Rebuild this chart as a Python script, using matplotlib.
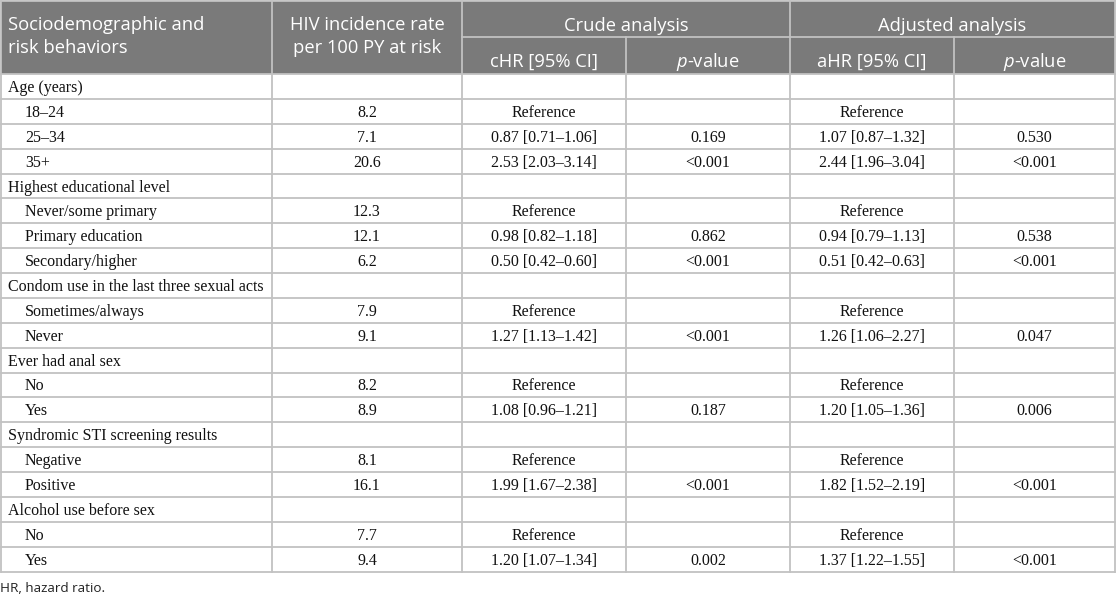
import matplotlib.pyplot as plt

plt.rcParams['mathtext.fontset'] = 'custom'
plt.rcParams['mathtext.it'] = 'Open Sans:italic'
plt.rcParams['mathtext.rm'] = 'Open Sans'

# table content
labels = ['Age (years)', '18–24', '25–34', '35+',
          'Highest educational level', 'Never/some primary', 'Primary education', 'Secondary/higher',
          'Condom use in the last three sexual acts', 'Sometimes/always', 'Never',
          'Ever had anal sex', 'No', 'Yes',
          'Syndromic STI screening results', 'Negative', 'Positive',
          'Alcohol use before sex', 'No', 'Yes']
is_group = [1, 0, 0, 0, 1, 0, 0, 0, 1, 0, 0, 1, 0, 0, 1, 0, 0, 1, 0, 0]
incidence = ['', '8.2', '7.1', '20.6', '', '12.3', '12.1', '6.2', '', '7.9', '9.1',
             '', '8.2', '8.9', '', '8.1', '16.1', '', '7.7', '9.4']
chr_ci = ['', 'Reference', '0.87 [0.71–1.06]', '2.53 [2.03–3.14]', '', 'Reference',
          '0.98 [0.82–1.18]', '0.50 [0.42–0.60]', '', 'Reference', '1.27 [1.13–1.42]',
          '', 'Reference', '1.08 [0.96–1.21]', '', 'Reference', '1.99 [1.67–2.38]',
          '', 'Reference', '1.20 [1.07–1.34]']
crude_p = ['', '', '0.169', '<0.001', '', '', '0.862', '<0.001', '', '', '<0.001',
           '', '', '0.187', '', '', '<0.001', '', '', '0.002']
ahr_ci = ['', 'Reference', '1.07 [0.87–1.32]', '2.44 [1.96–3.04]', '', 'Reference',
          '0.94 [0.79–1.13]', '0.51 [0.42–0.63]', '', 'Reference', '1.26 [1.06–2.27]',
          '', 'Reference', '1.20 [1.05–1.36]', '', 'Reference', '1.82 [1.52–2.19]',
          '', 'Reference', '1.37 [1.22–1.55]']
adj_p = ['', '', '0.530', '<0.001', '', '', '0.538', '<0.001', '', '', '0.047',
         '', '', '0.006', '', '', '<0.001', '', '', '<0.001']

W, H = 1116, 599
fig = plt.figure(figsize=(W / 100, H / 100), dpi=100)
ax = fig.add_axes([0, 0, 1, 1])
ax.set_xlim(0, W)
ax.set_ylim(H, 0)
ax.axis('off')

cols = [1, 272, 462, 626, 790, 954, 1115]
head_top, head_mid, head_bot = 1, 37, 74
row_h = (571.5 - head_bot) / len(labels)
hdr = '#7a7a7a'
grid = '#c2c2c2'
hfont = dict(family='Open Sans', color='white', fontsize=13.2)
bfont = dict(family='Liberation Serif', color='#111111', fontsize=11.5)

# header background
ax.add_patch(plt.Rectangle((cols[0], head_top), cols[-1] - cols[0], head_bot - head_top,
                           facecolor=hdr, edgecolor='none'))
ax.plot([cols[2], cols[-1]], [head_mid, head_mid], color=grid, lw=1.3)
for x in [cols[1], cols[2], cols[4]]:
    ax.plot([x, x], [head_top, head_bot], color=grid, lw=1.3)
for x in [cols[3], cols[5]]:
    ax.plot([x, x], [head_mid, head_bot], color=grid, lw=1.3)

ax.text(8, 30, 'Sociodemographic and', ha='left', va='baseline', **hfont)
ax.text(8, 53, 'risk behaviors', ha='left', va='baseline', **hfont)
ax.text((cols[1] + cols[2]) / 2, 30, 'HIV incidence rate', ha='center', va='baseline', **hfont)
ax.text((cols[1] + cols[2]) / 2, 53, 'per 100 PY at risk', ha='center', va='baseline', **hfont)
ax.text((cols[2] + cols[4]) / 2, 31, 'Crude analysis', ha='center', va='baseline', **hfont)
ax.text((cols[4] + cols[6]) / 2, 31, 'Adjusted analysis', ha='center', va='baseline', **hfont)
ax.text((cols[2] + cols[3]) / 2, 67, 'cHR [95% CI]', ha='center', va='baseline', **hfont)
ax.text((cols[3] + cols[4]) / 2, 67, '$p$-value', ha='center', va='baseline', **hfont)
ax.text((cols[4] + cols[5]) / 2, 67, 'aHR [95% CI]', ha='center', va='baseline', **hfont)
ax.text((cols[5] + cols[6]) / 2, 67, '$p$-value', ha='center', va='baseline', **hfont)

# body
body_cols = [incidence, chr_ci, crude_p, ahr_ci, adj_p]
for i, lab in enumerate(labels):
    yb = head_bot + i * row_h + 18
    ax.text(8 if is_group[i] else 25, yb, lab, ha='left', va='baseline', **bfont)
    for j, col in enumerate(body_cols):
        if col[i]:
            ax.text((cols[j + 1] + cols[j + 2]) / 2, yb, col[i], ha='center', va='baseline', **bfont)

bottom = head_bot + len(labels) * row_h
for i in range(len(labels) + 1):
    y = head_bot + i * row_h
    ax.plot([cols[0], cols[-1]], [y, y], color=grid, lw=1.3)
for x in cols:
    ax.plot([x, x], [head_bot, bottom], color=grid, lw=1.3)
ax.plot([cols[0], cols[-1]], [head_top, head_top], color=grid, lw=1.3)
ax.plot([cols[0], cols[0]], [head_top, head_bot], color=grid, lw=1.3)
ax.plot([cols[-1], cols[-1]], [head_top, head_bot], color=grid, lw=1.3)

ax.text(0, 592, 'HR, hazard ratio.', ha='left', va='baseline', family='Open Sans',
        color='#222222', fontsize=9.7)

fig.savefig('out.png', dpi=100)
